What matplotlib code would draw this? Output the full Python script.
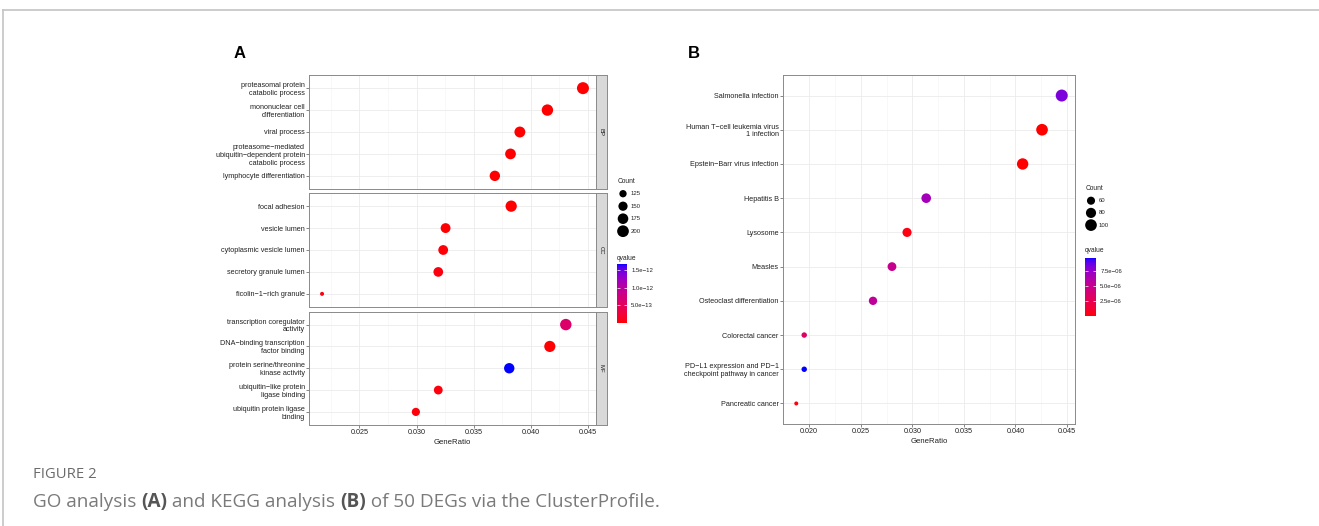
import numpy as np
import matplotlib.pyplot as plt
import matplotlib as mpl
from matplotlib.colors import ListedColormap, Normalize

W, H = 1319, 526
MINUS = "\u2212"

# ---- panel A: GO enrichment (BP / CC / MF facets), top term first ----
bp_terms = ["proteasomal protein\ncatabolic process", "mononuclear cell\ndifferentiation",
            "viral process",
            "proteasome" + MINUS + "mediated\nubiquitin" + MINUS + "dependent protein\ncatabolic process",
            "lymphocyte differentiation"]
bp_ratio = [0.04456, 0.04145, 0.03904, 0.03822, 0.03685]
bp_count = [207, 193, 182, 178, 171]
bp_qvalue = [3.2e-19, 8.5e-17, 4.1e-16, 2.2e-15, 6.7e-15]

cc_terms = ["focal adhesion", "vesicle lumen", "cytoplasmic vesicle lumen",
            "secretory granule lumen", "ficolin" + MINUS + "1" + MINUS + "rich granule"]
cc_ratio = [0.03828, 0.03254, 0.03233, 0.03190, 0.02173]
cc_count = [190, 161, 160, 158, 108]
cc_qvalue = [1.4e-16, 9.8e-15, 2.6e-14, 4.3e-14, 5.1e-14]

mf_terms = ["transcription coregulator\nactivity",
            "DNA" + MINUS + "binding transcription\nfactor binding",
            "protein serine/threonine\nkinase activity",
            "ubiquitin" + MINUS + "like protein\nligase binding",
            "ubiquitin protein ligase\nbinding"]
mf_ratio = [0.04306, 0.04166, 0.03811, 0.03190, 0.02994]
mf_count = [194, 187, 171, 144, 135]
mf_qvalue = [6.1e-13, 8.7e-15, 1.68e-12, 3.9e-14, 2.7e-14]

go_facets = ["BP", "CC", "MF"]
go_size_breaks = [125, 150, 175, 200]
go_q_ticks = [5e-13, 1e-12, 1.5e-12]
go_q_labels = ["5.0e" + MINUS + "13", "1.0e" + MINUS + "12", "1.5e" + MINUS + "12"]
go_x_ticks = [0.025, 0.030, 0.035, 0.040, 0.045]

# ---- panel B: KEGG enrichment, top term first ----
kegg_terms = ["Salmonella infection", "Human T" + MINUS + "cell leukemia virus\n1 infection",
              "Epstein" + MINUS + "Barr virus infection", "Hepatitis B", "Lysosome", "Measles",
              "Osteoclast differentiation", "Colorectal cancer",
              "PD" + MINUS + "L1 expression and PD" + MINUS + "1\ncheckpoint pathway in cancer",
              "Pancreatic cancer"]
kegg_ratio = [0.04449, 0.04258, 0.04070, 0.03135, 0.02949, 0.02803, 0.02619, 0.01952, 0.01952, 0.01875]
kegg_count = [105, 100, 96, 74, 69, 66, 62, 46, 46, 44]
kegg_qvalue = [8.2e-6, 1.2e-8, 4.5e-8, 6.8e-6, 3.1e-7, 5.0e-6, 5.5e-6, 3.3e-6, 9.6e-6, 2.0e-7]

kegg_size_breaks = [60, 80, 100]
kegg_q_ticks = [2.5e-6, 5e-6, 7.5e-6]
kegg_q_labels = ["2.5e" + MINUS + "06", "5.0e" + MINUS + "06", "7.5e" + MINUS + "06"]
kegg_x_ticks = [0.020, 0.025, 0.030, 0.035, 0.040, 0.045]


# red -> blue gradient interpolated in CIELAB (like ggplot's scale_colour_gradient)
M = np.array([[0.4124564, 0.3575761, 0.1804375],
              [0.2126729, 0.7151522, 0.0721750],
              [0.0193339, 0.1191920, 0.9503041]])
WHITE = np.array([0.95047, 1.0, 1.08883])


def srgb_to_lab(c):
    c = np.asarray(c, float)
    lin = np.where(c <= 0.04045, c / 12.92, ((c + 0.055) / 1.055) ** 2.4)
    xyz = (M @ lin) / WHITE
    f = np.where(xyz > 216 / 24389, np.cbrt(xyz), (24389 / 27 * xyz + 16) / 116)
    return np.array([116 * f[1] - 16, 500 * (f[0] - f[1]), 200 * (f[1] - f[2])])


def lab_to_srgb(lab):
    L, a, b = lab
    fy = (L + 16) / 116
    fx = fy + a / 500
    fz = fy - b / 200
    finv = lambda t: np.where(t ** 3 > 216 / 24389, t ** 3, (116 * t - 16) / (24389 / 27))
    xyz = np.array([finv(fx), finv(fy), finv(fz)]) * WHITE
    lin = np.clip(np.linalg.inv(M) @ xyz, 0, 1)
    c = np.where(lin <= 0.0031308, 12.92 * lin, 1.055 * lin ** (1 / 2.4) - 0.055)
    return np.clip(c, 0, 1)


lab_lo, lab_hi = srgb_to_lab([1, 0, 0]), srgb_to_lab([0, 0, 1])
cmap = ListedColormap([lab_to_srgb(lab_lo + (lab_hi - lab_lo) * t) for t in np.linspace(0, 1, 256)])


def dot_size(count, cmin, cmax):
    # ggplot area scale: diameter grows with sqrt of rescaled count (pixels -> pt^2)
    t = np.clip((np.asarray(count, float) - cmin) / (cmax - cmin), 0, 1)
    d = 4 + 8 * np.sqrt(t)
    return (d * 0.72) ** 2


plt.rcParams['font.family'] = ['Liberation Sans', 'DejaVu Sans']
fig = plt.figure(figsize=(W / 100, H / 100), dpi=100)


def px_axes(x0, y0, x1, y1):
    return fig.add_axes([x0 / W, 1 - y1 / H, (x1 - x0) / W, (y1 - y0) / H])


def expand(vals):
    lo, hi = min(vals), max(vals)
    pad = (hi - lo) * 0.05
    return lo - pad, hi + pad


def dot_panel(ax, terms, ratio, count, qv, norm, crange, xlim, xticks, show_x):
    n = len(terms)
    y = np.arange(n)[::-1] + 1
    ax.scatter(ratio, y, s=dot_size(count, *crange), c=qv, cmap=cmap, norm=norm,
               edgecolors='none', zorder=3)
    ax.set_yticks(y)
    ax.set_yticklabels(terms, fontsize=5.2, color='#222222', linespacing=1.15)
    ax.set_xticks(xticks)
    ax.set_xticks([v + 0.0025 for v in xticks] + [xticks[0] - 0.0025], minor=True)
    # limits after ticks so the minor ticks do not widen the view
    ax.set_xlim(xlim)
    ax.set_ylim(0.4, n + 0.6)
    ax.grid(True, which='major', color='#ebebeb', lw=0.6, zorder=0)
    ax.grid(True, which='minor', axis='x', color='#f3f3f3', lw=0.4, zorder=0)
    ax.set_axisbelow(True)
    ax.tick_params(axis='both', which='major', length=2, width=0.5, color='#555555', pad=1)
    ax.tick_params(axis='x', which='minor', length=0)
    if show_x:
        ax.set_xticklabels(["%.3f" % v for v in xticks], fontsize=5.2, color='#222222')
    else:
        ax.tick_params(axis='x', which='major', length=0, labelbottom=False)
    for sp in ax.spines.values():
        sp.set_color('#8a8a8a')
        sp.set_linewidth(0.7)


# ---------------- panel A ----------------
go_ratio_all = bp_ratio + cc_ratio + mf_ratio
go_count_all = bp_count + cc_count + mf_count
go_q_all = bp_qvalue + cc_qvalue + mf_qvalue
go_norm = Normalize(min(go_q_all), max(go_q_all))
go_crange = (min(go_count_all), max(go_count_all))
go_xlim = expand(go_ratio_all)

facet_rows = [(75, 189), (193, 307), (311.5, 425)]
facet_data = [(bp_terms, bp_ratio, bp_count, bp_qvalue),
              (cc_terms, cc_ratio, cc_count, cc_qvalue),
              (mf_terms, mf_ratio, mf_count, mf_qvalue)]
for i, ((y0, y1), data, lab) in enumerate(zip(facet_rows, facet_data, go_facets)):
    ax = px_axes(309, y0, 596, y1)
    dot_panel(ax, *data, go_norm, go_crange, go_xlim, go_x_ticks, show_x=(i == 2))
    strip = px_axes(596, y0, 607, y1)
    strip.set_facecolor('#d9d9d9')
    strip.set_xticks([])
    strip.set_yticks([])
    for sp in strip.spines.values():
        sp.set_color('#8a8a8a')
        sp.set_linewidth(0.7)
    strip.text(0.5, 0.5, lab, rotation=-90, ha='center', va='center', fontsize=4.3,
               color='#1a1a1a', transform=strip.transAxes)
    if i == 2:
        ax.set_xlabel("GeneRatio", fontsize=5.6, color='#222222', labelpad=2)

# ---------------- panel B ----------------
kegg_norm = Normalize(min(kegg_qvalue), max(kegg_qvalue))
kegg_crange = (min(kegg_count), max(kegg_count))
axb = px_axes(783, 75, 1075, 424)
dot_panel(axb, kegg_terms, kegg_ratio, kegg_count, kegg_qvalue, kegg_norm, kegg_crange,
          expand(kegg_ratio), kegg_x_ticks, show_x=True)
axb.set_xlabel("GeneRatio", fontsize=5.6, color='#222222', labelpad=2)

# ---------------- overlay (legends, labels, frame, caption) in pixel coords ----------------
ov = fig.add_axes([0, 0, 1, 1])
ov.set_xlim(0, W)
ov.set_ylim(H, 0)
ov.axis('off')
ov.patch.set_alpha(0)


def size_legend(x, y_title, y_first, step, breaks, crange):
    ov.text(x - 5, y_title, "Count", fontsize=4.8, color='#222222', va='center')
    ys = [y_first + k * step for k in range(len(breaks))]
    ov.scatter([x] * len(breaks), ys, s=dot_size(breaks, *crange), c='black', edgecolors='none')
    for yy, b in zip(ys, breaks):
        ov.text(x + 8, yy, str(b), fontsize=4.3, color='#222222', va='center')


def q_colorbar(x0, y0, x1, y1, norm, ticks, labels, y_title):
    ov.text(x0, y_title, "qvalue", fontsize=4.8, color='#222222', va='center')
    cax = px_axes(x0, y0, x1, y1)
    cb = mpl.colorbar.ColorbarBase(cax, cmap=cmap, norm=norm, orientation='vertical')
    cb.outline.set_visible(False)
    cb.set_ticks(ticks)
    cb.set_ticklabels(labels)
    cax.tick_params(axis='y', direction='in', left=True, right=True, color='white',
                    length=2, width=0.5, labelsize=4.3, labelcolor='#222222', pad=3)


size_legend(623, 181.5, 193.7, 12.5, go_size_breaks, go_crange)
q_colorbar(617, 264, 627, 323, go_norm, go_q_ticks, go_q_labels, 258)
size_legend(1091, 188, 200.7, 12.2, kegg_size_breaks, kegg_crange)
q_colorbar(1085, 258, 1096, 316, kegg_norm, kegg_q_ticks, kegg_q_labels, 251)

ov.text(240, 53, "A", fontsize=12, fontweight='bold', ha='center', va='center')
ov.text(694, 54, "B", fontsize=12, fontweight='bold', ha='center', va='center')

# page frame
ov.plot([3, W], [10, 10], color='#c4c4c4', lw=1.2, clip_on=False)
ov.plot([3, 3], [10, H], color='#c4c4c4', lw=1.2, clip_on=False)

# caption
ov.text(33, 475, "FIGURE 2", fontsize=10.7, color='#6b6b6b', family='Open Sans', va='center')
fig.canvas.draw()
renderer = fig.canvas.get_renderer()
parts = [("GO analysis ", 'normal', '#7a7a7a'), ("(A)", 'bold', '#555555'),
         (" and KEGG analysis ", 'normal', '#7a7a7a'), ("(B)", 'bold', '#555555'),
         (" of 50 DEGs via the ClusterProfile.", 'normal', '#7a7a7a')]
x = 33
for txt, weight, col in parts:
    t = ov.text(x, 502, txt, fontsize=13.6, fontweight=weight, color=col,
                family='Open Sans', va='center')
    x += t.get_window_extent(renderer=renderer).width

fig.savefig("out.png", dpi=100)
